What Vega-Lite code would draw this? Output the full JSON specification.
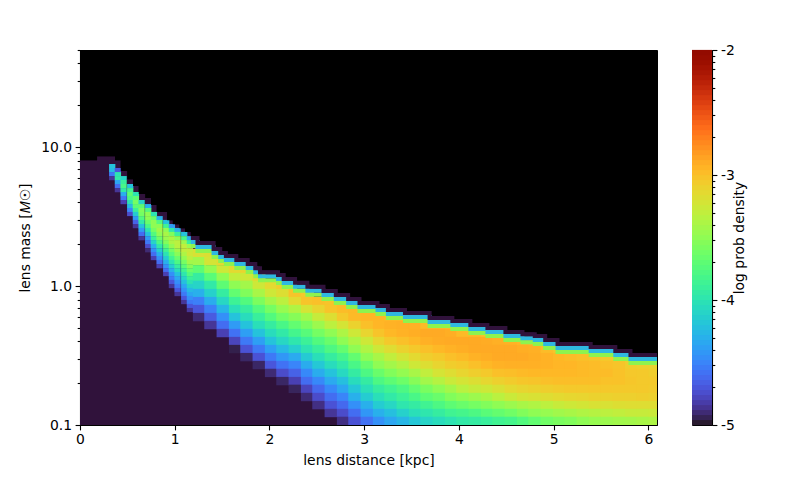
{"$schema":"https://vega.github.io/schema/vega-lite/v6.json","background":"white","padding":{"left":18,"top":42,"right":5,"bottom":5},
"config":{"font":"DejaVu Sans","axis":{"grid":false,"domainColor":"black","tickColor":"black","labelColor":"black","titleColor":"black","labelFontSize":13.9,"titleFontSize":13.9,"titleFontWeight":"normal","labelFont":"DejaVu Sans","titleFont":"DejaVu Sans","tickWidth":1.1,"domainWidth":1.1}},
"datasets":{
"edge":[{"d":0,"m":8.06},{"d":0.18,"m":8.61},{"d":0.37,"m":8.06},{"d":0.43,"m":6.72},{"d":0.5,"m":5.88},{"d":0.56,"m":5.24},{"d":0.62,"m":4.59},{"d":0.69,"m":4.3},{"d":0.75,"m":3.83},{"d":0.81,"m":3.41},{"d":0.92,"m":2.98},{"d":0.98,"m":2.79},{"d":1.05,"m":2.61},{"d":1.11,"m":2.45},{"d":1.17,"m":2.29},{"d":1.24,"m":2.11},{"d":1.41,"m":1.91},{"d":1.48,"m":1.79},{"d":1.54,"m":1.7},{"d":1.65,"m":1.59},{"d":1.77,"m":1.49},{"d":1.85,"m":1.39},{"d":1.9,"m":1.3},{"d":2.09,"m":1.24},{"d":2.15,"m":1.16},{"d":2.27,"m":1.09},{"d":2.4,"m":1.02},{"d":2.57,"m":0.951},{"d":2.7,"m":0.891},{"d":2.83,"m":0.833},{"d":2.95,"m":0.78},{"d":3.14,"m":0.742},{"d":3.25,"m":0.695},{"d":3.43,"m":0.661},{"d":3.69,"m":0.608},{"d":3.93,"m":0.579},{"d":4.12,"m":0.542},{"d":4.3,"m":0.515},{"d":4.49,"m":0.483},{"d":4.67,"m":0.465},{"d":4.8,"m":0.452},{"d":4.91,"m":0.423},{"d":5.04,"m":0.396},{"d":5.39,"m":0.376},{"d":5.65,"m":0.352},{"d":5.81,"m":0.33},{"d":6.09,"m":0.33}],
"fine":[
{"d":0.34,"m":7.3,"z":-4.2},{"d":0.34,"m":6.83,"z":-4.25},{"d":0.34,"m":6.39,"z":-4.55},{"d":0.34,"m":5.98,"z":-4.85},
{"d":0.4,"m":6.83,"z":-4.7},{"d":0.4,"m":6.39,"z":-4},{"d":0.4,"m":5.98,"z":-3.95},{"d":0.4,"m":5.6,"z":-4.35},{"d":0.4,"m":5.24,"z":-4.6},{"d":0.4,"m":4.9,"z":-4.85},
{"d":0.46,"m":5.98,"z":-4.1},{"d":0.46,"m":5.6,"z":-3.9},{"d":0.46,"m":5.24,"z":-3.8},{"d":0.46,"m":4.9,"z":-3.95},{"d":0.46,"m":4.59,"z":-4.3},{"d":0.46,"m":4.3,"z":-4.55},{"d":0.46,"m":4.02,"z":-4.8},
{"d":0.53,"m":5.24,"z":-4.2},{"d":0.53,"m":4.9,"z":-3.85},{"d":0.53,"m":4.59,"z":-3.7},{"d":0.53,"m":4.3,"z":-3.8},{"d":0.53,"m":4.02,"z":-4},{"d":0.53,"m":3.76,"z":-4.25},{"d":0.53,"m":3.52,"z":-4.5},{"d":0.53,"m":3.3,"z":-4.75},
{"d":0.59,"m":4.59,"z":-4},{"d":0.59,"m":4.3,"z":-3.7},{"d":0.59,"m":4.02,"z":-3.6},{"d":0.59,"m":3.76,"z":-3.7},{"d":0.59,"m":3.52,"z":-3.9},{"d":0.59,"m":3.3,"z":-4.15},{"d":0.59,"m":3.08,"z":-4.4},{"d":0.59,"m":2.89,"z":-4.65},{"d":0.59,"m":2.7,"z":-4.85},
{"d":0.65,"m":4.02,"z":-4.1},{"d":0.65,"m":3.76,"z":-3.7},{"d":0.65,"m":3.52,"z":-3.55},{"d":0.65,"m":3.3,"z":-3.6},{"d":0.65,"m":3.08,"z":-3.75},{"d":0.65,"m":2.89,"z":-3.95},{"d":0.65,"m":2.7,"z":-4.2},{"d":0.65,"m":2.53,"z":-4.4},{"d":0.65,"m":2.37,"z":-4.6},{"d":0.65,"m":2.21,"z":-4.85},
{"d":0.72,"m":3.76,"z":-4.3},{"d":0.72,"m":3.52,"z":-3.75},{"d":0.72,"m":3.3,"z":-3.5},{"d":0.72,"m":3.08,"z":-3.5},{"d":0.72,"m":2.89,"z":-3.65},{"d":0.72,"m":2.7,"z":-3.8},{"d":0.72,"m":2.53,"z":-4},{"d":0.72,"m":2.37,"z":-4.2},{"d":0.72,"m":2.21,"z":-4.4},{"d":0.72,"m":2.07,"z":-4.55},{"d":0.72,"m":1.94,"z":-4.75},{"d":0.72,"m":1.81,"z":-4.9},
{"d":0.78,"m":3.3,"z":-4},{"d":0.78,"m":3.08,"z":-3.65},{"d":0.78,"m":2.89,"z":-3.5},{"d":0.78,"m":2.7,"z":-3.5},{"d":0.78,"m":2.53,"z":-3.6},{"d":0.78,"m":2.37,"z":-3.75},{"d":0.78,"m":2.21,"z":-3.9},{"d":0.78,"m":2.07,"z":-4.1},{"d":0.78,"m":1.94,"z":-4.3},{"d":0.78,"m":1.81,"z":-4.45},{"d":0.78,"m":1.7,"z":-4.6},{"d":0.78,"m":1.59,"z":-4.8},
{"d":0.84,"m":3.08,"z":-4.3},{"d":0.84,"m":2.89,"z":-3.75},{"d":0.84,"m":2.7,"z":-3.5},{"d":0.84,"m":2.53,"z":-3.42},{"d":0.84,"m":2.37,"z":-3.5},{"d":0.84,"m":2.21,"z":-3.62},{"d":0.84,"m":2.07,"z":-3.78},{"d":0.84,"m":1.94,"z":-3.95},{"d":0.84,"m":1.81,"z":-4.12},{"d":0.84,"m":1.7,"z":-4.3},{"d":0.84,"m":1.59,"z":-4.45},{"d":0.84,"m":1.49,"z":-4.6},{"d":0.84,"m":1.39,"z":-4.8},
{"d":0.91,"m":2.89,"z":-4.2},{"d":0.91,"m":2.7,"z":-3.85},{"d":0.91,"m":2.53,"z":-3.5},{"d":0.91,"m":2.37,"z":-3.4},{"d":0.91,"m":2.21,"z":-3.45},{"d":0.91,"m":2.07,"z":-3.55},{"d":0.91,"m":1.94,"z":-3.7},{"d":0.91,"m":1.81,"z":-3.85},{"d":0.91,"m":1.7,"z":-4},{"d":0.91,"m":1.59,"z":-4.15},{"d":0.91,"m":1.49,"z":-4.3},{"d":0.91,"m":1.39,"z":-4.45},{"d":0.91,"m":1.3,"z":-4.6},{"d":0.91,"m":1.22,"z":-4.8},
{"d":0.97,"m":2.7,"z":-4.4},{"d":0.97,"m":2.53,"z":-3.95},{"d":0.97,"m":2.37,"z":-3.55},{"d":0.97,"m":2.21,"z":-3.38},{"d":0.97,"m":2.07,"z":-3.38},{"d":0.97,"m":1.94,"z":-3.48},{"d":0.97,"m":1.81,"z":-3.6},{"d":0.97,"m":1.7,"z":-3.72},{"d":0.97,"m":1.59,"z":-3.85},{"d":0.97,"m":1.49,"z":-4},{"d":0.97,"m":1.39,"z":-4.15},{"d":0.97,"m":1.3,"z":-4.3},{"d":0.97,"m":1.22,"z":-4.45},{"d":0.97,"m":1.14,"z":-4.55},{"d":0.97,"m":1.07,"z":-4.7},{"d":0.97,"m":1,"z":-4.85},
{"d":1.03,"m":2.53,"z":-4.3},{"d":1.03,"m":2.37,"z":-3.9},{"d":1.03,"m":2.21,"z":-3.5},{"d":1.03,"m":2.07,"z":-3.33},{"d":1.03,"m":1.94,"z":-3.33},{"d":1.03,"m":1.81,"z":-3.42},{"d":1.03,"m":1.7,"z":-3.52},{"d":1.03,"m":1.59,"z":-3.65},{"d":1.03,"m":1.49,"z":-3.78},{"d":1.03,"m":1.39,"z":-3.92},{"d":1.03,"m":1.3,"z":-4.05},{"d":1.03,"m":1.22,"z":-4.2},{"d":1.03,"m":1.14,"z":-4.33},{"d":1.03,"m":1.07,"z":-4.45},{"d":1.03,"m":1,"z":-4.55},{"d":1.03,"m":0.936,"z":-4.7},{"d":1.03,"m":0.876,"z":-4.85},
{"d":1.1,"m":2.37,"z":-4.2},{"d":1.1,"m":2.21,"z":-3.8},{"d":1.1,"m":2.07,"z":-3.45},{"d":1.1,"m":1.94,"z":-3.3},{"d":1.1,"m":1.81,"z":-3.3},{"d":1.1,"m":1.7,"z":-3.38},{"d":1.1,"m":1.59,"z":-3.48},{"d":1.1,"m":1.49,"z":-3.6},{"d":1.1,"m":1.39,"z":-3.72},{"d":1.1,"m":1.3,"z":-3.85},{"d":1.1,"m":1.22,"z":-3.98},{"d":1.1,"m":1.14,"z":-4.1},{"d":1.1,"m":1.07,"z":-4.22},{"d":1.1,"m":1,"z":-4.35},{"d":1.1,"m":0.936,"z":-4.45},{"d":1.1,"m":0.876,"z":-4.55},{"d":1.1,"m":0.82,"z":-4.7},{"d":1.1,"m":0.767,"z":-4.85},
{"d":1.16,"m":2.21,"z":-4.3},{"d":1.16,"m":2.07,"z":-3.9},{"d":1.16,"m":1.94,"z":-3.45},{"d":1.16,"m":1.81,"z":-3.28},{"d":1.16,"m":1.7,"z":-3.25},{"d":1.16,"m":1.59,"z":-3.32},{"d":1.16,"m":1.49,"z":-3.42},{"d":1.16,"m":1.39,"z":-3.52},{"d":1.16,"m":1.3,"z":-3.64},{"d":1.16,"m":1.22,"z":-3.75},{"d":1.16,"m":1.14,"z":-3.88},{"d":1.16,"m":1.07,"z":-4},{"d":1.16,"m":1,"z":-4.12},{"d":1.16,"m":0.936,"z":-4.25},{"d":1.16,"m":0.876,"z":-4.35},{"d":1.16,"m":0.82,"z":-4.45},{"d":1.16,"m":0.767,"z":-4.55},{"d":1.16,"m":0.718,"z":-4.7},{"d":1.16,"m":0.672,"z":-4.85}],
"coarse":[
{"d":1.26,"m":1.73,"z":-3.2},{"d":1.26,"m":1.51,"z":-3.42},{"d":1.26,"m":1.32,"z":-3.7},{"d":1.26,"m":1.16,"z":-3.92},{"d":1.26,"m":1.02,"z":-4.1},{"d":1.26,"m":0.89,"z":-4.3},{"d":1.26,"m":0.779,"z":-4.52},{"d":1.26,"m":0.683,"z":-4.7},{"d":1.26,"m":0.598,"z":-4.9},
{"d":1.38,"m":1.73,"z":-3.18},{"d":1.38,"m":1.51,"z":-3.22},{"d":1.38,"m":1.32,"z":-3.48},{"d":1.38,"m":1.16,"z":-3.72},{"d":1.38,"m":1.02,"z":-3.95},{"d":1.38,"m":0.89,"z":-4.12},{"d":1.38,"m":0.779,"z":-4.32},{"d":1.38,"m":0.683,"z":-4.52},{"d":1.38,"m":0.598,"z":-4.68},{"d":1.38,"m":0.524,"z":-4.85},
{"d":1.51,"m":1.51,"z":-3.15},{"d":1.51,"m":1.32,"z":-3.25},{"d":1.51,"m":1.16,"z":-3.5},{"d":1.51,"m":1.02,"z":-3.7},{"d":1.51,"m":0.89,"z":-3.92},{"d":1.51,"m":0.779,"z":-4.08},{"d":1.51,"m":0.683,"z":-4.27},{"d":1.51,"m":0.598,"z":-4.45},{"d":1.51,"m":0.524,"z":-4.6},{"d":1.51,"m":0.459,"z":-4.8},
{"d":1.64,"m":1.32,"z":-3.15},{"d":1.64,"m":1.16,"z":-3.3},{"d":1.64,"m":1.02,"z":-3.5},{"d":1.64,"m":0.89,"z":-3.68},{"d":1.64,"m":0.779,"z":-3.87},{"d":1.64,"m":0.683,"z":-4.03},{"d":1.64,"m":0.598,"z":-4.2},{"d":1.64,"m":0.524,"z":-4.4},{"d":1.64,"m":0.459,"z":-4.58},{"d":1.64,"m":0.402,"z":-4.78},{"d":1.64,"m":0.352,"z":-4.95},
{"d":1.76,"m":1.32,"z":-3.12},{"d":1.76,"m":1.16,"z":-3.25},{"d":1.76,"m":1.02,"z":-3.42},{"d":1.76,"m":0.89,"z":-3.55},{"d":1.76,"m":0.779,"z":-3.75},{"d":1.76,"m":0.683,"z":-3.92},{"d":1.76,"m":0.598,"z":-4.05},{"d":1.76,"m":0.524,"z":-4.2},{"d":1.76,"m":0.459,"z":-4.38},{"d":1.76,"m":0.402,"z":-4.55},{"d":1.76,"m":0.352,"z":-4.72},{"d":1.76,"m":0.308,"z":-4.92},
{"d":1.89,"m":1.16,"z":-3.12},{"d":1.89,"m":1.02,"z":-3.25},{"d":1.89,"m":0.89,"z":-3.4},{"d":1.89,"m":0.779,"z":-3.57},{"d":1.89,"m":0.683,"z":-3.75},{"d":1.89,"m":0.598,"z":-3.9},{"d":1.89,"m":0.524,"z":-4.03},{"d":1.89,"m":0.459,"z":-4.2},{"d":1.89,"m":0.402,"z":-4.38},{"d":1.89,"m":0.352,"z":-4.55},{"d":1.89,"m":0.308,"z":-4.72},{"d":1.89,"m":0.27,"z":-4.92},
{"d":2.02,"m":1.02,"z":-3.15},{"d":2.02,"m":0.89,"z":-3.25},{"d":2.02,"m":0.779,"z":-3.42},{"d":2.02,"m":0.683,"z":-3.6},{"d":2.02,"m":0.598,"z":-3.75},{"d":2.02,"m":0.524,"z":-3.92},{"d":2.02,"m":0.459,"z":-4.05},{"d":2.02,"m":0.402,"z":-4.2},{"d":2.02,"m":0.352,"z":-4.38},{"d":2.02,"m":0.308,"z":-4.55},{"d":2.02,"m":0.27,"z":-4.7},{"d":2.02,"m":0.237,"z":-4.9},
{"d":2.14,"m":1.02,"z":-3.08},{"d":2.14,"m":0.89,"z":-3.18},{"d":2.14,"m":0.779,"z":-3.32},{"d":2.14,"m":0.683,"z":-3.47},{"d":2.14,"m":0.598,"z":-3.62},{"d":2.14,"m":0.524,"z":-3.8},{"d":2.14,"m":0.459,"z":-3.95},{"d":2.14,"m":0.402,"z":-4.08},{"d":2.14,"m":0.352,"z":-4.25},{"d":2.14,"m":0.308,"z":-4.42},{"d":2.14,"m":0.27,"z":-4.58},{"d":2.14,"m":0.237,"z":-4.75},{"d":2.14,"m":0.207,"z":-4.92},
{"d":2.27,"m":0.89,"z":-3.02},{"d":2.27,"m":0.779,"z":-3.15},{"d":2.27,"m":0.683,"z":-3.37},{"d":2.27,"m":0.598,"z":-3.53},{"d":2.27,"m":0.524,"z":-3.68},{"d":2.27,"m":0.459,"z":-3.83},{"d":2.27,"m":0.402,"z":-3.98},{"d":2.27,"m":0.352,"z":-4.13},{"d":2.27,"m":0.308,"z":-4.33},{"d":2.27,"m":0.27,"z":-4.5},{"d":2.27,"m":0.237,"z":-4.65},{"d":2.27,"m":0.207,"z":-4.8},{"d":2.27,"m":0.182,"z":-4.93},
{"d":2.4,"m":0.89,"z":-3.05},{"d":2.4,"m":0.779,"z":-3.02},{"d":2.4,"m":0.683,"z":-3.22},{"d":2.4,"m":0.598,"z":-3.43},{"d":2.4,"m":0.524,"z":-3.57},{"d":2.4,"m":0.459,"z":-3.73},{"d":2.4,"m":0.402,"z":-3.88},{"d":2.4,"m":0.352,"z":-4},{"d":2.4,"m":0.308,"z":-4.16},{"d":2.4,"m":0.27,"z":-4.32},{"d":2.4,"m":0.237,"z":-4.48},{"d":2.4,"m":0.207,"z":-4.6},{"d":2.4,"m":0.182,"z":-4.78},{"d":2.4,"m":0.159,"z":-4.9},
{"d":2.52,"m":0.779,"z":-3},{"d":2.52,"m":0.683,"z":-3.12},{"d":2.52,"m":0.598,"z":-3.28},{"d":2.52,"m":0.524,"z":-3.45},{"d":2.52,"m":0.459,"z":-3.6},{"d":2.52,"m":0.402,"z":-3.75},{"d":2.52,"m":0.352,"z":-3.9},{"d":2.52,"m":0.308,"z":-4.03},{"d":2.52,"m":0.27,"z":-4.17},{"d":2.52,"m":0.237,"z":-4.32},{"d":2.52,"m":0.207,"z":-4.48},{"d":2.52,"m":0.182,"z":-4.62},{"d":2.52,"m":0.159,"z":-4.75},{"d":2.52,"m":0.139,"z":-4.88},
{"d":2.65,"m":0.779,"z":-3.02},{"d":2.65,"m":0.683,"z":-3.02},{"d":2.65,"m":0.598,"z":-3.18},{"d":2.65,"m":0.524,"z":-3.32},{"d":2.65,"m":0.459,"z":-3.5},{"d":2.65,"m":0.402,"z":-3.65},{"d":2.65,"m":0.352,"z":-3.77},{"d":2.65,"m":0.308,"z":-3.92},{"d":2.65,"m":0.27,"z":-4.05},{"d":2.65,"m":0.237,"z":-4.2},{"d":2.65,"m":0.207,"z":-4.33},{"d":2.65,"m":0.182,"z":-4.48},{"d":2.65,"m":0.159,"z":-4.6},{"d":2.65,"m":0.139,"z":-4.72},{"d":2.65,"m":0.122,"z":-4.85},
{"d":2.78,"m":0.683,"z":-2.98},{"d":2.78,"m":0.598,"z":-3.05},{"d":2.78,"m":0.524,"z":-3.22},{"d":2.78,"m":0.459,"z":-3.38},{"d":2.78,"m":0.402,"z":-3.5},{"d":2.78,"m":0.352,"z":-3.67},{"d":2.78,"m":0.308,"z":-3.82},{"d":2.78,"m":0.27,"z":-3.95},{"d":2.78,"m":0.237,"z":-4.07},{"d":2.78,"m":0.207,"z":-4.22},{"d":2.78,"m":0.182,"z":-4.35},{"d":2.78,"m":0.159,"z":-4.5},{"d":2.78,"m":0.139,"z":-4.62},{"d":2.78,"m":0.122,"z":-4.75},{"d":2.78,"m":0.107,"z":-4.88},
{"d":2.9,"m":0.683,"z":-2.97},{"d":2.9,"m":0.598,"z":-2.97},{"d":2.9,"m":0.524,"z":-3.1},{"d":2.9,"m":0.459,"z":-3.25},{"d":2.9,"m":0.402,"z":-3.38},{"d":2.9,"m":0.352,"z":-3.5},{"d":2.9,"m":0.308,"z":-3.68},{"d":2.9,"m":0.27,"z":-3.8},{"d":2.9,"m":0.237,"z":-3.93},{"d":2.9,"m":0.207,"z":-4.05},{"d":2.9,"m":0.182,"z":-4.18},{"d":2.9,"m":0.159,"z":-4.3},{"d":2.9,"m":0.139,"z":-4.45},{"d":2.9,"m":0.122,"z":-4.6},{"d":2.9,"m":0.107,"z":-4.72},
{"d":3.03,"m":0.598,"z":-2.95},{"d":3.03,"m":0.524,"z":-3},{"d":3.03,"m":0.459,"z":-3.12},{"d":3.03,"m":0.402,"z":-3.25},{"d":3.03,"m":0.352,"z":-3.37},{"d":3.03,"m":0.308,"z":-3.5},{"d":3.03,"m":0.27,"z":-3.65},{"d":3.03,"m":0.237,"z":-3.78},{"d":3.03,"m":0.207,"z":-3.93},{"d":3.03,"m":0.182,"z":-4.03},{"d":3.03,"m":0.159,"z":-4.15},{"d":3.03,"m":0.139,"z":-4.3},{"d":3.03,"m":0.122,"z":-4.42},{"d":3.03,"m":0.107,"z":-4.58},
{"d":3.16,"m":0.598,"z":-2.95},{"d":3.16,"m":0.524,"z":-2.95},{"d":3.16,"m":0.459,"z":-3.02},{"d":3.16,"m":0.402,"z":-3.13},{"d":3.16,"m":0.352,"z":-3.25},{"d":3.16,"m":0.308,"z":-3.4},{"d":3.16,"m":0.27,"z":-3.5},{"d":3.16,"m":0.237,"z":-3.65},{"d":3.16,"m":0.207,"z":-3.78},{"d":3.16,"m":0.182,"z":-3.92},{"d":3.16,"m":0.159,"z":-4.03},{"d":3.16,"m":0.139,"z":-4.15},{"d":3.16,"m":0.122,"z":-4.3},{"d":3.16,"m":0.107,"z":-4.45},
{"d":3.28,"m":0.598,"z":-2.97},{"d":3.28,"m":0.524,"z":-2.93},{"d":3.28,"m":0.459,"z":-2.96},{"d":3.28,"m":0.402,"z":-3.05},{"d":3.28,"m":0.352,"z":-3.17},{"d":3.28,"m":0.308,"z":-3.3},{"d":3.28,"m":0.27,"z":-3.42},{"d":3.28,"m":0.237,"z":-3.55},{"d":3.28,"m":0.207,"z":-3.7},{"d":3.28,"m":0.182,"z":-3.85},{"d":3.28,"m":0.159,"z":-3.95},{"d":3.28,"m":0.139,"z":-4.08},{"d":3.28,"m":0.122,"z":-4.22},{"d":3.28,"m":0.107,"z":-4.35},
{"d":3.41,"m":0.598,"z":-2.97},{"d":3.41,"m":0.524,"z":-2.92},{"d":3.41,"m":0.459,"z":-2.93},{"d":3.41,"m":0.402,"z":-3},{"d":3.41,"m":0.352,"z":-3.1},{"d":3.41,"m":0.308,"z":-3.22},{"d":3.41,"m":0.27,"z":-3.35},{"d":3.41,"m":0.237,"z":-3.48},{"d":3.41,"m":0.207,"z":-3.63},{"d":3.41,"m":0.182,"z":-3.78},{"d":3.41,"m":0.159,"z":-3.88},{"d":3.41,"m":0.139,"z":-3.98},{"d":3.41,"m":0.122,"z":-4.12},{"d":3.41,"m":0.107,"z":-4.27},
{"d":3.54,"m":0.524,"z":-2.92},{"d":3.54,"m":0.459,"z":-2.91},{"d":3.54,"m":0.402,"z":-2.96},{"d":3.54,"m":0.352,"z":-3.05},{"d":3.54,"m":0.308,"z":-3.15},{"d":3.54,"m":0.27,"z":-3.25},{"d":3.54,"m":0.237,"z":-3.4},{"d":3.54,"m":0.207,"z":-3.53},{"d":3.54,"m":0.182,"z":-3.68},{"d":3.54,"m":0.159,"z":-3.8},{"d":3.54,"m":0.139,"z":-3.93},{"d":3.54,"m":0.122,"z":-4.03},{"d":3.54,"m":0.107,"z":-4.18},
{"d":3.66,"m":0.524,"z":-2.97},{"d":3.66,"m":0.459,"z":-2.89},{"d":3.66,"m":0.402,"z":-2.92},{"d":3.66,"m":0.352,"z":-3},{"d":3.66,"m":0.308,"z":-3.08},{"d":3.66,"m":0.27,"z":-3.18},{"d":3.66,"m":0.237,"z":-3.3},{"d":3.66,"m":0.207,"z":-3.42},{"d":3.66,"m":0.182,"z":-3.58},{"d":3.66,"m":0.159,"z":-3.7},{"d":3.66,"m":0.139,"z":-3.85},{"d":3.66,"m":0.122,"z":-3.98},{"d":3.66,"m":0.107,"z":-4.1},
{"d":3.79,"m":0.524,"z":-2.97},{"d":3.79,"m":0.459,"z":-2.89},{"d":3.79,"m":0.402,"z":-2.9},{"d":3.79,"m":0.352,"z":-2.96},{"d":3.79,"m":0.308,"z":-3.05},{"d":3.79,"m":0.27,"z":-3.12},{"d":3.79,"m":0.237,"z":-3.22},{"d":3.79,"m":0.207,"z":-3.35},{"d":3.79,"m":0.182,"z":-3.5},{"d":3.79,"m":0.159,"z":-3.65},{"d":3.79,"m":0.139,"z":-3.78},{"d":3.79,"m":0.122,"z":-3.92},{"d":3.79,"m":0.107,"z":-4.05},
{"d":3.92,"m":0.524,"z":-2.98},{"d":3.92,"m":0.459,"z":-2.91},{"d":3.92,"m":0.402,"z":-2.89},{"d":3.92,"m":0.352,"z":-2.93},{"d":3.92,"m":0.308,"z":-3},{"d":3.92,"m":0.27,"z":-3.07},{"d":3.92,"m":0.237,"z":-3.17},{"d":3.92,"m":0.207,"z":-3.27},{"d":3.92,"m":0.182,"z":-3.42},{"d":3.92,"m":0.159,"z":-3.55},{"d":3.92,"m":0.139,"z":-3.7},{"d":3.92,"m":0.122,"z":-3.85},{"d":3.92,"m":0.107,"z":-4},
{"d":4.04,"m":0.459,"z":-2.97},{"d":4.04,"m":0.402,"z":-2.89},{"d":4.04,"m":0.352,"z":-2.91},{"d":4.04,"m":0.308,"z":-2.97},{"d":4.04,"m":0.27,"z":-3.05},{"d":4.04,"m":0.237,"z":-3.12},{"d":4.04,"m":0.207,"z":-3.22},{"d":4.04,"m":0.182,"z":-3.33},{"d":4.04,"m":0.159,"z":-3.5},{"d":4.04,"m":0.139,"z":-3.65},{"d":4.04,"m":0.122,"z":-3.82},{"d":4.04,"m":0.107,"z":-3.95},
{"d":4.17,"m":0.459,"z":-2.97},{"d":4.17,"m":0.402,"z":-2.89},{"d":4.17,"m":0.352,"z":-2.89},{"d":4.17,"m":0.308,"z":-2.93},{"d":4.17,"m":0.27,"z":-3},{"d":4.17,"m":0.237,"z":-3.08},{"d":4.17,"m":0.207,"z":-3.18},{"d":4.17,"m":0.182,"z":-3.28},{"d":4.17,"m":0.159,"z":-3.45},{"d":4.17,"m":0.139,"z":-3.6},{"d":4.17,"m":0.122,"z":-3.78},{"d":4.17,"m":0.107,"z":-3.93},
{"d":4.3,"m":0.459,"z":-3.02},{"d":4.3,"m":0.402,"z":-2.9},{"d":4.3,"m":0.352,"z":-2.89},{"d":4.3,"m":0.308,"z":-2.91},{"d":4.3,"m":0.27,"z":-2.96},{"d":4.3,"m":0.237,"z":-3.05},{"d":4.3,"m":0.207,"z":-3.13},{"d":4.3,"m":0.182,"z":-3.25},{"d":4.3,"m":0.159,"z":-3.4},{"d":4.3,"m":0.139,"z":-3.55},{"d":4.3,"m":0.122,"z":-3.72},{"d":4.3,"m":0.107,"z":-3.9},
{"d":4.42,"m":0.402,"z":-2.92},{"d":4.42,"m":0.352,"z":-2.89},{"d":4.42,"m":0.308,"z":-2.89},{"d":4.42,"m":0.27,"z":-2.93},{"d":4.42,"m":0.237,"z":-3},{"d":4.42,"m":0.207,"z":-3.09},{"d":4.42,"m":0.182,"z":-3.2},{"d":4.42,"m":0.159,"z":-3.33},{"d":4.42,"m":0.139,"z":-3.5},{"d":4.42,"m":0.122,"z":-3.67},{"d":4.42,"m":0.107,"z":-3.85},
{"d":4.55,"m":0.402,"z":-2.93},{"d":4.55,"m":0.352,"z":-2.89},{"d":4.55,"m":0.308,"z":-2.89},{"d":4.55,"m":0.27,"z":-2.92},{"d":4.55,"m":0.237,"z":-2.99},{"d":4.55,"m":0.207,"z":-3.06},{"d":4.55,"m":0.182,"z":-3.15},{"d":4.55,"m":0.159,"z":-3.27},{"d":4.55,"m":0.139,"z":-3.45},{"d":4.55,"m":0.122,"z":-3.62},{"d":4.55,"m":0.107,"z":-3.82},
{"d":4.68,"m":0.402,"z":-2.95},{"d":4.68,"m":0.352,"z":-2.91},{"d":4.68,"m":0.308,"z":-2.89},{"d":4.68,"m":0.27,"z":-2.92},{"d":4.68,"m":0.237,"z":-2.97},{"d":4.68,"m":0.207,"z":-3.03},{"d":4.68,"m":0.182,"z":-3.12},{"d":4.68,"m":0.159,"z":-3.22},{"d":4.68,"m":0.139,"z":-3.4},{"d":4.68,"m":0.122,"z":-3.55},{"d":4.68,"m":0.107,"z":-3.75},
{"d":4.8,"m":0.402,"z":-2.98},{"d":4.8,"m":0.352,"z":-2.92},{"d":4.8,"m":0.308,"z":-2.91},{"d":4.8,"m":0.27,"z":-2.92},{"d":4.8,"m":0.237,"z":-2.96},{"d":4.8,"m":0.207,"z":-3.02},{"d":4.8,"m":0.182,"z":-3.1},{"d":4.8,"m":0.159,"z":-3.2},{"d":4.8,"m":0.139,"z":-3.37},{"d":4.8,"m":0.122,"z":-3.5},{"d":4.8,"m":0.107,"z":-3.68},
{"d":4.93,"m":0.352,"z":-2.98},{"d":4.93,"m":0.308,"z":-2.93},{"d":4.93,"m":0.27,"z":-2.93},{"d":4.93,"m":0.237,"z":-2.96},{"d":4.93,"m":0.207,"z":-3},{"d":4.93,"m":0.182,"z":-3.08},{"d":4.93,"m":0.159,"z":-3.17},{"d":4.93,"m":0.139,"z":-3.32},{"d":4.93,"m":0.122,"z":-3.47},{"d":4.93,"m":0.107,"z":-3.62},
{"d":5.06,"m":0.352,"z":-3.02},{"d":5.06,"m":0.308,"z":-2.96},{"d":5.06,"m":0.27,"z":-2.95},{"d":5.06,"m":0.237,"z":-2.96},{"d":5.06,"m":0.207,"z":-2.99},{"d":5.06,"m":0.182,"z":-3.06},{"d":5.06,"m":0.159,"z":-3.15},{"d":5.06,"m":0.139,"z":-3.28},{"d":5.06,"m":0.122,"z":-3.43},{"d":5.06,"m":0.107,"z":-3.58},
{"d":5.18,"m":0.308,"z":-2.98},{"d":5.18,"m":0.27,"z":-2.95},{"d":5.18,"m":0.237,"z":-2.96},{"d":5.18,"m":0.207,"z":-2.99},{"d":5.18,"m":0.182,"z":-3.05},{"d":5.18,"m":0.159,"z":-3.13},{"d":5.18,"m":0.139,"z":-3.25},{"d":5.18,"m":0.122,"z":-3.4},{"d":5.18,"m":0.107,"z":-3.55},
{"d":5.31,"m":0.308,"z":-3},{"d":5.31,"m":0.27,"z":-2.97},{"d":5.31,"m":0.237,"z":-2.97},{"d":5.31,"m":0.207,"z":-2.99},{"d":5.31,"m":0.182,"z":-3.05},{"d":5.31,"m":0.159,"z":-3.12},{"d":5.31,"m":0.139,"z":-3.23},{"d":5.31,"m":0.122,"z":-3.37},{"d":5.31,"m":0.107,"z":-3.5},
{"d":5.44,"m":0.308,"z":-3.02},{"d":5.44,"m":0.27,"z":-2.98},{"d":5.44,"m":0.237,"z":-2.98},{"d":5.44,"m":0.207,"z":-2.99},{"d":5.44,"m":0.182,"z":-3.04},{"d":5.44,"m":0.159,"z":-3.1},{"d":5.44,"m":0.139,"z":-3.2},{"d":5.44,"m":0.122,"z":-3.35},{"d":5.44,"m":0.107,"z":-3.47},
{"d":5.56,"m":0.308,"z":-3.05},{"d":5.56,"m":0.27,"z":-3},{"d":5.56,"m":0.237,"z":-2.98},{"d":5.56,"m":0.207,"z":-3.01},{"d":5.56,"m":0.182,"z":-3.04},{"d":5.56,"m":0.159,"z":-3.1},{"d":5.56,"m":0.139,"z":-3.2},{"d":5.56,"m":0.122,"z":-3.32},{"d":5.56,"m":0.107,"z":-3.45},
{"d":5.69,"m":0.308,"z":-3.05},{"d":5.69,"m":0.27,"z":-3.02},{"d":5.69,"m":0.237,"z":-3.01},{"d":5.69,"m":0.207,"z":-3.01},{"d":5.69,"m":0.182,"z":-3.05},{"d":5.69,"m":0.159,"z":-3.09},{"d":5.69,"m":0.139,"z":-3.18},{"d":5.69,"m":0.122,"z":-3.3},{"d":5.69,"m":0.107,"z":-3.43},
{"d":5.82,"m":0.27,"z":-3.07},{"d":5.82,"m":0.237,"z":-3.04},{"d":5.82,"m":0.207,"z":-3.03},{"d":5.82,"m":0.182,"z":-3.05},{"d":5.82,"m":0.159,"z":-3.09},{"d":5.82,"m":0.139,"z":-3.17},{"d":5.82,"m":0.122,"z":-3.28},{"d":5.82,"m":0.107,"z":-3.42},
{"d":5.94,"m":0.27,"z":-3.09},{"d":5.94,"m":0.237,"z":-3.05},{"d":5.94,"m":0.207,"z":-3.05},{"d":5.94,"m":0.182,"z":-3.05},{"d":5.94,"m":0.159,"z":-3.08},{"d":5.94,"m":0.139,"z":-3.17},{"d":5.94,"m":0.122,"z":-3.28},{"d":5.94,"m":0.107,"z":-3.4},
{"d":6.07,"m":0.27,"z":-3.1},{"d":6.07,"m":0.237,"z":-3.07},{"d":6.07,"m":0.207,"z":-3.05},{"d":6.07,"m":0.182,"z":-3.06},{"d":6.07,"m":0.159,"z":-3.09},{"d":6.07,"m":0.139,"z":-3.17},{"d":6.07,"m":0.122,"z":-3.27},{"d":6.07,"m":0.107,"z":-3.38}],
"bar":[{"v":-4.98},{"v":-4.94},{"v":-4.9},{"v":-4.86},{"v":-4.82},{"v":-4.78},{"v":-4.74},{"v":-4.7},{"v":-4.66},{"v":-4.62},{"v":-4.58},{"v":-4.54},{"v":-4.5},{"v":-4.46},{"v":-4.42},{"v":-4.38},{"v":-4.34},{"v":-4.3},{"v":-4.26},{"v":-4.22},{"v":-4.18},{"v":-4.14},{"v":-4.1},{"v":-4.06},{"v":-4.02},{"v":-3.98},{"v":-3.94},{"v":-3.9},{"v":-3.86},{"v":-3.82},{"v":-3.78},{"v":-3.74},{"v":-3.7},{"v":-3.66},{"v":-3.62},{"v":-3.58},{"v":-3.54},{"v":-3.5},{"v":-3.46},{"v":-3.42},{"v":-3.38},{"v":-3.34},{"v":-3.3},{"v":-3.26},{"v":-3.22},{"v":-3.18},{"v":-3.14},{"v":-3.1},{"v":-3.06},{"v":-3.02},{"v":-2.98},{"v":-2.94},{"v":-2.9},{"v":-2.86},{"v":-2.82},{"v":-2.78},{"v":-2.74},{"v":-2.7},{"v":-2.66},{"v":-2.62},{"v":-2.58},{"v":-2.54},{"v":-2.5},{"v":-2.46},{"v":-2.42},{"v":-2.38},{"v":-2.34},{"v":-2.3},{"v":-2.26},{"v":-2.22},{"v":-2.18},{"v":-2.14},{"v":-2.1},{"v":-2.06},{"v":-2.02}]},
"hconcat":[
{"width":577,"height":375,"view":{"fill":"black","stroke":"black"},
"encoding":{"x":{"field":"d","type":"quantitative","title":"lens distance [kpc]","scale":{"domain":[0,6.09],"nice":false,"zero":false},"axis":{"values":[0,1,2,3,4,5,6],"format":"d","tickSize":4.9,"labelPadding":3,"titlePadding":7,"labelFlush":false}},
"y":{"field":"m","type":"quantitative","title":"lens mass [𝑀☉]","scale":{"type":"log","domain":[0.1,50],"nice":false},"axis":{"values":[0.1,0.2,0.3,0.4,0.5,0.6,0.7,0.8,0.9,1,2,3,4,5,6,7,8,9,10,20,30,40,50],"labelExpr":"datum.value==0.1?'0.1':datum.value==1?'1.0':datum.value==10?'10.0':''","tickSize":{"condition":{"test":"datum.value==0.1||datum.value==1||datum.value==10","value":4.9},"value":2.8},"labelPadding":3.5,"titlePadding":8,"labelOverlap":false,"labelFlush":false}}},
"layer":[
{"data":{"name":"edge"},"mark":{"type":"area","interpolate":"step-after","color":"#30123b","clip":true},"encoding":{"y2":{"datum":0.1}}},
{"data":{"name":"fine"},"mark":{"type":"rect","width":6.3,"height":4.2,"clip":true},"encoding":{"color":{"field":"z","type":"quantitative","scale":{"scheme":"turbo","domain":[-5,-2]},"legend":null}}},
{"data":{"name":"coarse"},"mark":{"type":"rect","width":13,"height":8.4,"clip":true},"encoding":{"color":{"field":"z","type":"quantitative","scale":{"scheme":"turbo","domain":[-5,-2]},"legend":null}}},
{"data":{"name":"edge"},"mark":{"type":"area","interpolate":"step-after","color":"black","clip":true},"encoding":{"y2":{"datum":50}}},
{"data":{"name":"edge"},"transform":[{"filter":"datum.d>=1.17"}],"mark":{"type":"line","interpolate":"step-after","color":"#8ef34e","strokeWidth":4,"yOffset":10,"clip":true},"encoding":{}},
{"data":{"name":"edge"},"transform":[{"filter":"datum.d>=1.17"}],"mark":{"type":"line","interpolate":"step-after","color":"#2fb8e0","strokeWidth":4,"yOffset":6,"clip":true},"encoding":{}},
{"data":{"name":"edge"},"transform":[{"filter":"datum.d>=1.17"}],"mark":{"type":"line","interpolate":"step-after","color":"#30123b","strokeWidth":4,"yOffset":2,"clip":true},"encoding":{}}
]},
{"width":20,"height":375,"view":{"stroke":"black"},"data":{"name":"bar"},"mark":{"type":"rect","height":5.2},
"encoding":{"y":{"field":"v","type":"quantitative","title":"log prob density","scale":{"domain":[-5,-2],"nice":false,"zero":false},"axis":{"orient":"right","values":[-5,-4.699,-4.523,-4.398,-4.301,-4.222,-4.155,-4.097,-4.046,-4,-3.699,-3.523,-3.398,-3.301,-3.222,-3.155,-3.097,-3.046,-3,-2.699,-2.523,-2.398,-2.301,-2.222,-2.155,-2.097,-2.046,-2],"labelExpr":"datum.value==round(datum.value)?''+datum.value:''","tickSize":{"condition":{"test":"datum.value==round(datum.value)","value":4.9},"value":2.8},"labelPadding":3.5,"titleAngle":270,"titlePadding":12,"labelOverlap":false,"labelFlush":false}},
"color":{"field":"v","type":"quantitative","scale":{"scheme":"turbo","domain":[-5,-2]},"legend":null}}}
],"spacing":33}
